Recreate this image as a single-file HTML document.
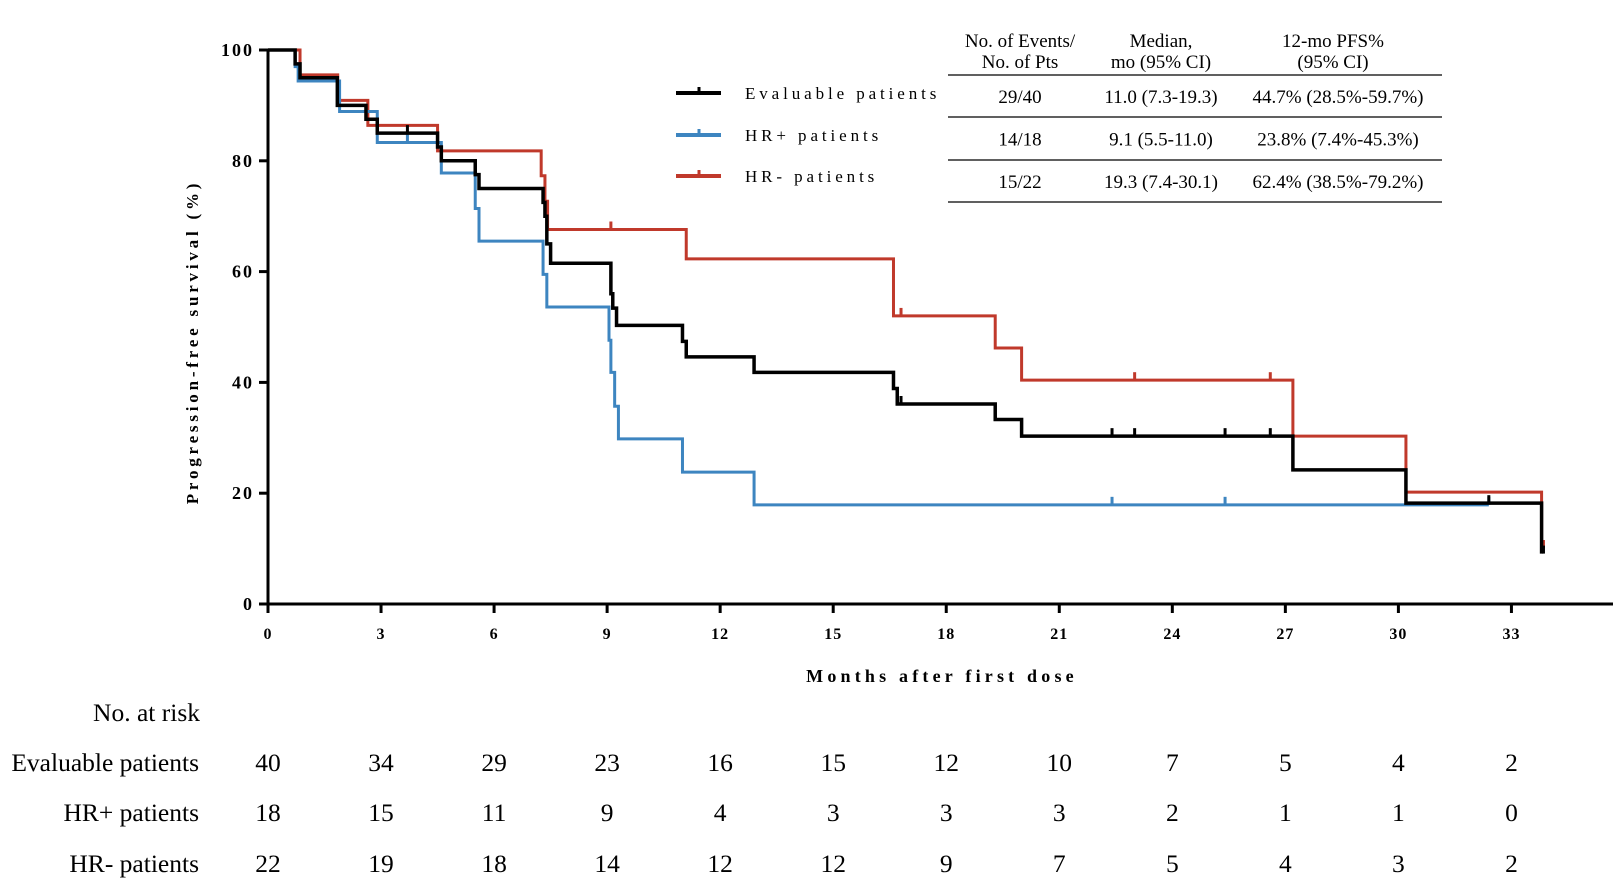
<!DOCTYPE html>
<html><head><meta charset="utf-8"><style>
html,body{margin:0;padding:0;background:#fff}
svg{display:block}
.t{font-family:"Liberation Serif",serif;}
.b{font-family:"Liberation Serif",serif;font-weight:bold;font-size:16px;letter-spacing:3px}
</style></head><body>
<svg id="s" width="1618" height="888" xmlns="http://www.w3.org/2000/svg">
<g id="g"></g>
</svg>
<script>
const X0=268,M=37.68,Y0=604,P=5.54;
const x=t=>X0+t*M, y=s=>Y0-s*P;
const g=document.getElementById('g');
let h='';
h+=`<line x1="${X0}" y1="${y(100)}" x2="${X0}" y2="${Y0+2}" stroke="#000" stroke-width="3"/>`;
h+=`<line x1="${X0-2}" y1="${Y0}" x2="1613" y2="${Y0}" stroke="#000" stroke-width="3"/>`;
for(let v=0;v<=100;v+=20){h+=`<line x1="${X0-9}" y1="${y(v)}" x2="${X0}" y2="${y(v)}" stroke="#000" stroke-width="3"/>`;
h+=`<text class="b" x="${X0-14}" y="${y(v)+6}" text-anchor="end" style="letter-spacing:2px;font-size:18px">${v}</text>`;}
for(let m=0;m<=33;m+=3){h+=`<line x1="${x(m)}" y1="${Y0}" x2="${x(m)}" y2="${Y0+9}" stroke="#000" stroke-width="3"/>`;
h+=`<text class="b" x="${x(m)}" y="${Y0+35}" text-anchor="middle" style="letter-spacing:1px">${m}</text>`;}
h+=`<text class="b" x="942" y="682" text-anchor="middle" style="font-size:18px;letter-spacing:4.2px">Months after first dose</text>`;
h+=`<text class="b" transform="translate(198,342) rotate(-90)" text-anchor="middle" style="font-size:17px;letter-spacing:3.8px">Progression-free survival (%)</text>`;
function km(d,end,col,w,ticks){let p=`M${x(0)} ${y(100)}`;for(const [t,s] of d){p+=` H${x(t)} V${y(s)}`;}p+=` H${x(end)}`;
h+=`<path d="${p}" fill="none" stroke="${col}" stroke-width="${w}"/>`;
for(const [t,s] of ticks){h+=`<line x1="${x(t)}" y1="${y(s)}" x2="${x(t)}" y2="${y(s)-8}" stroke="${col}" stroke-width="3"/>`;}}
km([[0.85,95.5],[1.85,90.9],[2.65,86.4],[4.5,81.8],[7.25,77.3],[7.35,72.7],[7.42,67.6],[11.1,62.3],[16.6,52],[19.3,46.2],[20.0,40.4],[27.2,30.3],[30.2,20.2],[33.8,10.1]],33.8,'#c0392b',3,[[9.1,67.6],[16.8,52],[23.0,40.4],[26.6,40.4],[33.85,10.1]]);
km([[0.72,97],[0.8,94.4],[1.9,88.9],[2.9,83.3],[4.6,77.8],[5.5,71.4],[5.6,65.5],[7.3,59.5],[7.4,53.6],[9.05,47.6],[9.1,41.8],[9.2,35.7],[9.3,29.8],[11.0,23.8],[12.9,17.9]],32.4,'#3d85c0',3,[[3.7,83.3],[22.4,17.9],[25.4,17.9],[32.4,17.9]]);
km([[0.72,97.5],[0.85,95],[1.84,90],[2.6,87.5],[2.9,85],[4.5,82.5],[4.6,80],[5.5,77.5],[5.6,75],[7.3,72.5],[7.35,70],[7.4,65],[7.5,61.5],[9.1,56],[9.15,53.4],[9.25,50.3],[11.0,47.4],[11.1,44.6],[12.9,41.8],[16.6,38.9],[16.7,36.1],[19.3,33.3],[20.0,30.3],[27.2,24.2],[30.2,18.2],[33.8,9.1]],33.8,'#000',3.5,[[3.7,85],[16.8,36.1],[22.4,30.3],[23.0,30.3],[25.4,30.3],[26.6,30.3],[32.4,18.2],[33.85,9.1]]);
const L=[['#000','Evaluable patients',93],['#3d85c0','HR+ patients',135],['#c0392b','HR- patients',176]];
for(const [c,t,yy] of L){h+=`<line x1="676" y1="${yy}" x2="721" y2="${yy}" stroke="${c}" stroke-width="4"/><line x1="699" y1="${yy}" x2="699" y2="${yy-6}" stroke="${c}" stroke-width="3"/>`;
h+=`<text class="t" x="745" y="${yy+6}" style="font-size:17px;letter-spacing:3.9px">${t}</text>`;}
const tt=(xx,yy,s)=>`<text class="t" x="${xx}" y="${yy}" text-anchor="middle" style="font-size:19px">${s}</text>`;
h+=tt(1020,47,'No. of Events/')+tt(1020,68,'No. of Pts')+tt(1161,47,'Median,')+tt(1161,68,'mo (95% CI)')+tt(1333,47,'12-mo PFS%')+tt(1333,68,'(95% CI)');
for(const yy of [75,117,160,202]){h+=`<line x1="948" y1="${yy}" x2="1442" y2="${yy}" stroke="#000" stroke-width="1.3"/>`;}
const R=[['29/40','11.0 (7.3-19.3)','44.7% (28.5%-59.7%)'],['14/18','9.1 (5.5-11.0)','23.8% (7.4%-45.3%)'],['15/22','19.3 (7.4-30.1)','62.4% (38.5%-79.2%)']];
R.forEach((r,i)=>{const yy=103+i*42.5;h+=tt(1020,yy,r[0])+tt(1161,yy,r[1])+tt(1338,yy,r[2]);});
const rt=(xx,yy,s,a)=>`<text class="t" x="${xx}" y="${yy}" text-anchor="${a}" style="font-size:25.5px">${s}</text>`;
h+=rt(200,721,'No. at risk','end');
const RK=[['Evaluable patients',[40,34,29,23,16,15,12,10,7,5,4,2],771],['HR+ patients',[18,15,11,9,4,3,3,3,2,1,1,0],821],['HR- patients',[22,19,18,14,12,12,9,7,5,4,3,2],872]];
for(const [n,v,yy] of RK){h+=rt(199,yy,n,'end');v.forEach((k,i)=>{h+=rt(x(i*3),yy,k,'middle');});}
g.innerHTML=h;
</script>
</body></html>
